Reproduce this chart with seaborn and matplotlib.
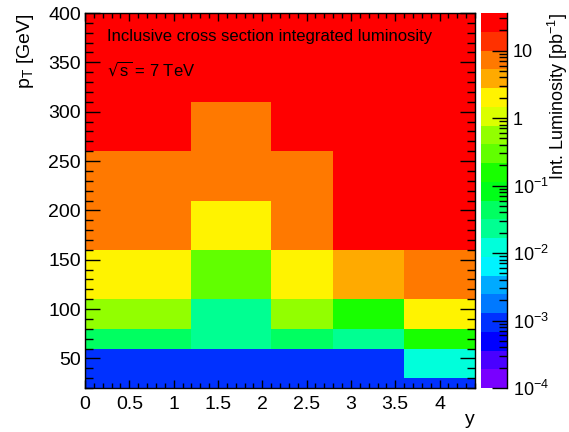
import colorsys
import numpy as np
import pandas as pd
import matplotlib
matplotlib.use("Agg")
import matplotlib.pyplot as plt
import seaborn as sns
from matplotlib.colors import ListedColormap, LogNorm
from matplotlib.ticker import MultipleLocator

# bin edges
rap_edges = [0.0, 1.2, 2.1, 2.8, 3.6, 4.4]
pt_edges = [20, 30, 60, 80, 110, 160, 210, 260, 310, 400]

# integrated luminosity [pb^-1] per bin, one list per pT bin (low -> high), columns = y bins
lumi_20_30 = [0.0009, 0.0009, 0.0009, 0.0009, 0.0009]
lumi_30_60 = [0.0009, 0.0009, 0.0009, 0.0009, 0.012]
lumi_60_80 = [0.044, 0.023, 0.044, 0.023, 0.16]
lumi_80_110 = [0.56, 0.023, 0.56, 0.16, 2.0]
lumi_110_160 = [2.0, 0.3, 2.0, 3.8, 7.2]
lumi_160_210 = [7.2, 2.0, 7.2, 35.0, 35.0]
lumi_210_260 = [7.2, 7.2, 7.2, 35.0, 35.0]
lumi_260_310 = [35.0, 7.2, 35.0, 35.0, 35.0]
lumi_310_400 = [35.0, 35.0, 35.0, 35.0, 35.0]

lumi = [lumi_20_30, lumi_30_60, lumi_60_80, lumi_80_110, lumi_110_160,
        lumi_160_210, lumi_210_260, lumi_260_310, lumi_310_400]

rap_mid = [(a + b) / 2 for a, b in zip(rap_edges[:-1], rap_edges[1:])]
pt_mid = [(a + b) / 2 for a, b in zip(pt_edges[:-1], pt_edges[1:])]

rows = []
for i, row in enumerate(lumi):
    for j, v in enumerate(row):
        rows.append({"rap": rap_mid[j], "pt": pt_mid[i], "lumi": v})
df = pd.DataFrame(rows)

# ROOT-like "pretty" palette, 20 contours
pal = []
for k in range(20):
    j = int((k + 0.99) * 50 / 20)
    hue = 280 * (1 - j / 49)
    pal.append(colorsys.hls_to_rgb(hue / 360, 0.5, 1))
cmap = ListedColormap(pal)

sns.set_style("ticks")
plt.rcParams["font.family"] = ["Liberation Sans", "DejaVu Sans"]
plt.rcParams["mathtext.default"] = "regular"
plt.rcParams["axes.edgecolor"] = "black"
plt.rcParams["axes.labelcolor"] = "black"
plt.rcParams["text.color"] = "black"
plt.rcParams["xtick.color"] = "black"
plt.rcParams["ytick.color"] = "black"
plt.rcParams["axes.axisbelow"] = False

fig = plt.figure(figsize=(5.69, 4.32), dpi=100)
ax = fig.add_axes([85 / 569, 1 - 388 / 432, 390 / 569, 375 / 432])
cax = fig.add_axes([481 / 569, 1 - 388 / 432, 26.5 / 569, 375 / 432])

sns.histplot(data=df, x="rap", y="pt", weights="lumi", bins=[rap_edges, pt_edges],
             cmap=cmap, ax=ax, cbar=False)
mesh = ax.collections[0]
mesh.set_norm(LogNorm(vmin=1e-4, vmax=36))
mesh.set_antialiased(False)
ax.set_axisbelow(False)

ax.set_xlim(0, 4.4)
ax.set_ylim(20, 400)
ax.xaxis.set_major_locator(MultipleLocator(0.5))
ax.xaxis.set_minor_locator(MultipleLocator(0.1))
ax.yaxis.set_major_locator(MultipleLocator(50))
ax.yaxis.set_minor_locator(MultipleLocator(10))
ax.set_xticks(np.arange(0, 4.01, 0.5), ["0", "0.5", "1", "1.5", "2", "2.5", "3", "3.5", "4"])
ax.tick_params(which="both", direction="in", top=True, right=True, labelsize=14, width=1)
ax.tick_params(axis="y", which="major", length=11, pad=3)
ax.tick_params(axis="y", which="minor", length=5.5)
ax.tick_params(axis="x", which="major", length=6, pad=6)
ax.tick_params(axis="x", which="minor", length=3.5)
for s in ax.spines.values():
    s.set_linewidth(1)

ax.set_xlabel("y", fontsize=14, loc="right")
ax.xaxis.set_label_coords(1.0, -0.06)
ax.set_ylabel("p$_{T}$ [GeV]", fontsize=14, loc="top")
ax.yaxis.set_label_coords(-0.125, 1.0)

cbar = fig.colorbar(mesh, cax=cax)
cbar.outline.set_visible(False)
cax.set_axisbelow(False)
cax.spines["right"].set_visible(True)
cax.spines["right"].set_linewidth(1)
cbar.set_ticks([1e-4, 1e-3, 1e-2, 1e-1, 1, 10],
               labels=["10$^{-4}$", "10$^{-3}$", "10$^{-2}$", "10$^{-1}$", "1", "10"])
cax.tick_params(which="both", direction="in", labelsize=13, pad=4, width=1)
cax.tick_params(which="major", length=11)
cax.tick_params(which="minor", length=6)
cax.set_ylabel("Int. Luminosity [pb$^{-1}$]", fontsize=13, loc="top")
cax.yaxis.set_label_coords(2.46, 1.0)

fig.text(107 / 569, 1 - 37 / 432, "Inclusive cross section integrated luminosity",
         fontsize=12, va="center")
fig.text(107 / 569, 1 - 69 / 432, r"$\sqrt{s}$ = 7 TeV", fontsize=12, va="center")

fig.savefig("out.png", dpi=100)
